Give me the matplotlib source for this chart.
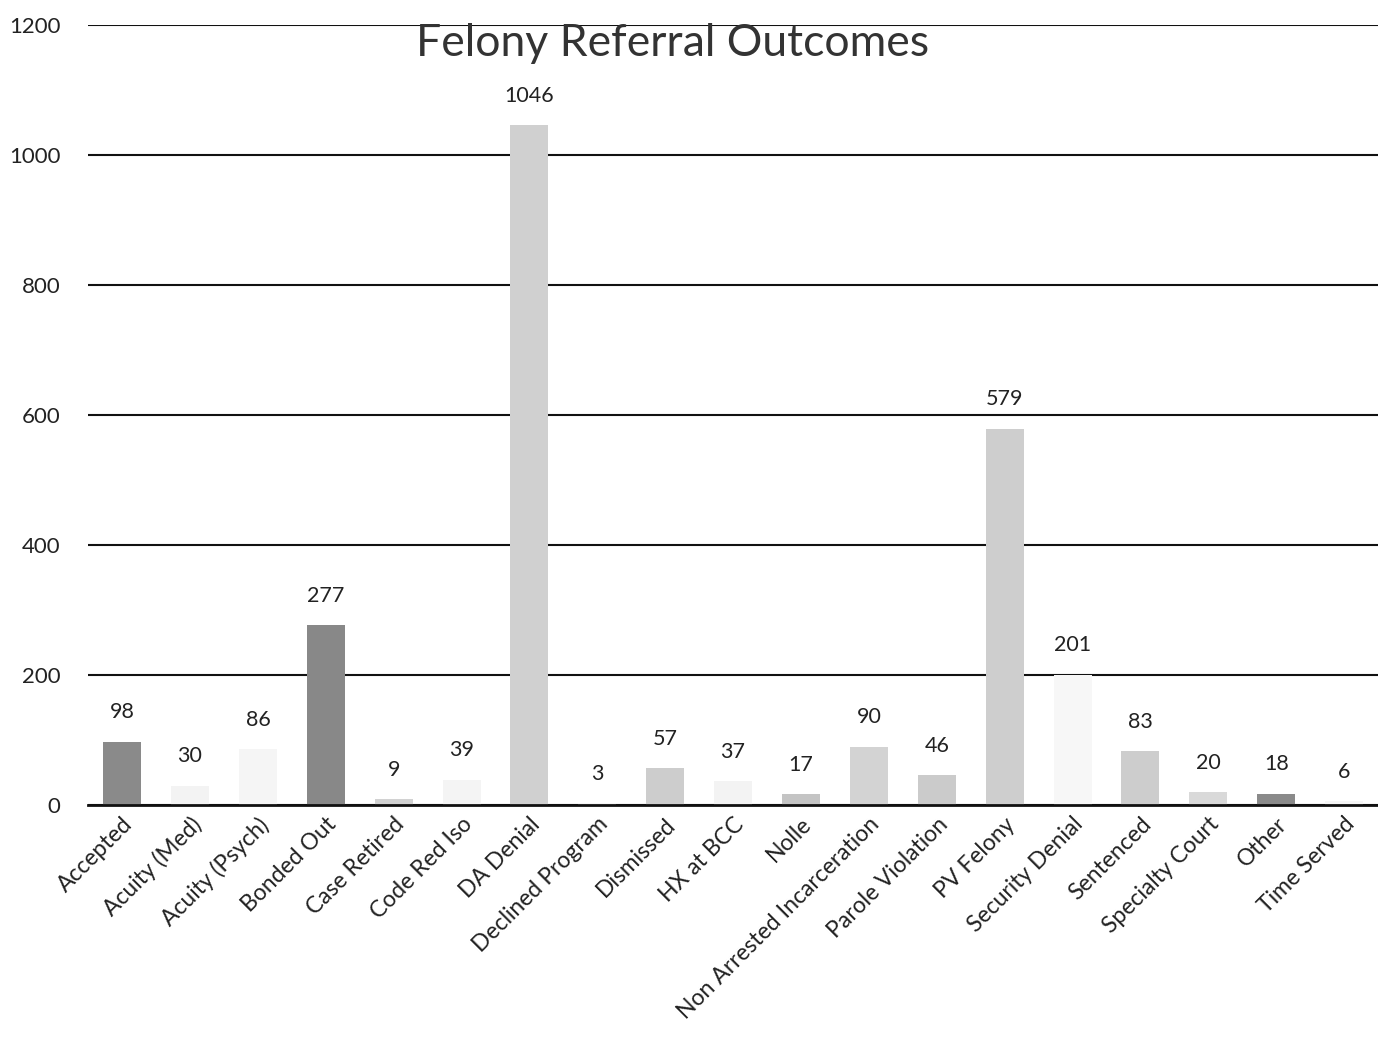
import matplotlib.pyplot as plt

categories = [
    "Accepted", "Acuity (Med)", "Acuity (Psych)", "Bonded Out", "Case Retired",
    "Code Red Iso", "DA Denial", "Declined Program", "Dismissed", "HX at BCC",
    "Nolle", "Non Arrested Incarceration", "Parole Violation", "PV Felony",
    "Security Denial", "Sentenced", "Specialty Court", "Other", "Time Served",
]
counts = [98, 30, 86, 277, 9, 39, 1046, 3, 57, 37, 17, 90, 46, 579, 201, 83, 20, 18, 6]
bar_colors = [
    "#8a8a8a", "#f3f3f3", "#f5f5f5", "#888888", "#d2d2d2",
    "#f4f4f4", "#d0d0d0", "#f6f6f6", "#cdcdcd", "#f3f3f3",
    "#c4c4c4", "#d3d3d3", "#cbcbcb", "#cecece", "#f7f7f7",
    "#cdcdcd", "#d9d9d9", "#8a8a8a", "#f6f6f6",
]
yticks = [0, 200, 400, 600, 800, 1000, 1200]

plt.rcParams["font.family"] = ["Lato", "DejaVu Sans"]

fig = plt.figure(figsize=(13.78, 10.54), dpi=100)
ax = fig.add_axes([0.064, 0.236, 0.936, 0.740])

x = range(len(categories))
bars = ax.bar(x, counts, width=0.56, color=bar_colors, zorder=3)

for b, v in zip(bars, counts):
    ax.annotate(str(v), (b.get_x() + b.get_width() / 2, v), xytext=(0, 14),
                textcoords="offset points", ha="center", va="bottom",
                fontsize=15.5, color="#222222", zorder=4)

ax.set_xlim(-0.5, len(categories) - 0.5)
ax.set_ylim(0, 1200)
ax.set_yticks(yticks)
ax.yaxis.grid(True, color="#111111", linewidth=1.5, zorder=1)
ax.tick_params(axis="y", length=0, labelsize=16, pad=20, labelcolor="#222222")
ax.tick_params(axis="x", length=0, labelsize=16.5, pad=6, labelcolor="#222222")
ax.set_xticks(list(x))
ax.set_xticklabels(categories, rotation=45, ha="right", rotation_mode="anchor")
for s in ["left", "right", "top"]:
    ax.spines[s].set_visible(False)
ax.spines["bottom"].set_color("#111111")
ax.spines["bottom"].set_linewidth(2)
ax.spines["bottom"].set_zorder(5)

fig.text(673 / 1378, 1 - 43 / 1054, "Felony Referral Outcomes", ha="center",
         va="center", fontsize=32, color="#333333")

fig.savefig("out.png", dpi=100, facecolor="white")
